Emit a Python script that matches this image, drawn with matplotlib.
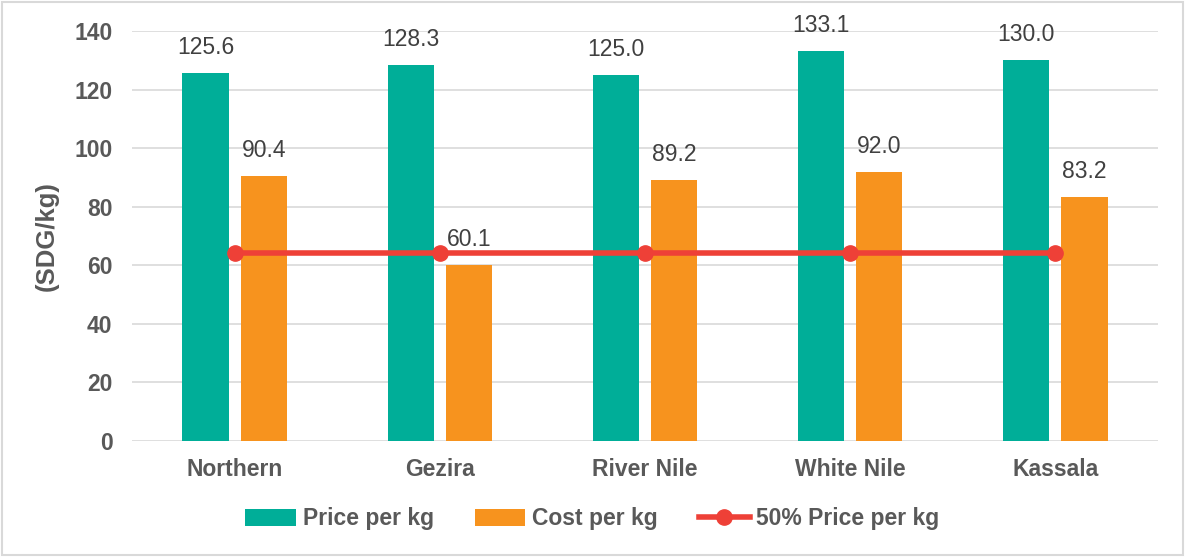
import matplotlib
matplotlib.use("Agg")
import matplotlib.pyplot as plt
from matplotlib.patches import Rectangle
import numpy as np

states = ["Northern", "Gezira", "River Nile", "White Nile", "Kassala"]
price_per_kg = [125.6, 128.3, 125.0, 133.1, 130.0]
cost_per_kg = [90.4, 60.1, 89.2, 92.0, 83.2]
half_price = [64.2, 64.2, 64.2, 64.2, 64.2]

GREEN = "#00AE98"
ORANGE = "#F7931E"
RED = "#EE4037"
TEXT = "#595959"

plt.rcParams["font.family"] = ["Liberation Sans", "DejaVu Sans"]

fig = plt.figure(figsize=(11.85, 5.57), dpi=100)
ax = fig.add_axes([132 / 1185, 1 - 441 / 557, 1026 / 1185, 410 / 557])

x = np.arange(len(states))
w = 0.225
off = 0.142
b1 = ax.bar(x - off, price_per_kg, w, color=GREEN, label="Price per kg", zorder=2)
b2 = ax.bar(x + off, cost_per_kg, w, color=ORANGE, label="Cost per kg", zorder=2)
ln, = ax.plot(x, half_price, color=RED, lw=4, marker="o", ms=11,
              label="50% Price per kg", zorder=3)

# value labels above each bar
for xi, v in zip(x, price_per_kg):
    ax.text(xi - off, v + 4.8, f"{v:.1f}", ha="center", va="bottom",
            fontsize=16.5, color="#404040")
for xi, v in zip(x, cost_per_kg):
    ax.text(xi + off, v + 4.8, f"{v:.1f}", ha="center", va="bottom",
            fontsize=16.5, color="#404040")

ax.set_xlim(-0.5, 4.5)
ax.set_ylim(0, 140)
ax.set_yticks(np.arange(0, 141, 20))
ax.set_xticks(x)
ax.set_xticklabels(states)
ax.grid(axis="y", color="#D9D9D9", lw=1.2, zorder=0)
ax.set_axisbelow(True)
for s in ax.spines.values():
    s.set_visible(False)
ax.tick_params(length=0, labelsize=16.5, labelcolor=TEXT)
ax.tick_params(axis="y", pad=14)
ax.tick_params(axis="x", pad=12)
for lab in ax.get_xticklabels() + ax.get_yticklabels():
    lab.set_fontweight("bold")
ax.set_ylabel("(SDG/kg)", fontsize=18.5, fontweight="bold", color=TEXT, labelpad=11)

leg = fig.legend([b1, b2, ln], ["Price per kg", "Cost per kg", "50% Price per kg"],
                 loc="center", bbox_to_anchor=(0.5, 1 - 519 / 557), ncol=3,
                 frameon=False, prop={"weight": "bold", "size": 16.5},
                 handlelength=2.2, handleheight=0.75,
                 columnspacing=1.8, handletextpad=0.3)
for t in leg.get_texts():
    t.set_color(TEXT)

fig.patches.append(Rectangle((0.002, 0.004), 0.996, 0.992, transform=fig.transFigure,
                             fill=False, edgecolor="#D9D9D9", lw=1.5))

fig.savefig("out.png", dpi=100)
